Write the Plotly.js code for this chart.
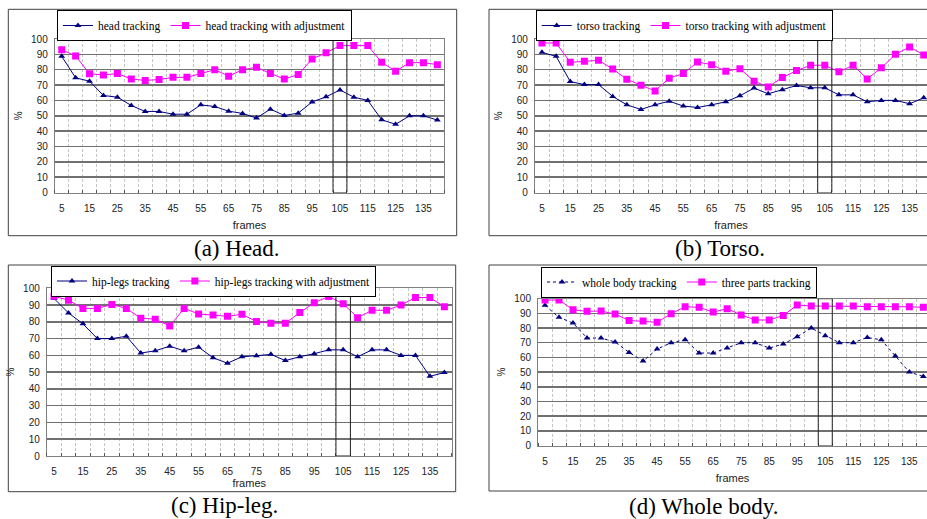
<!DOCTYPE html>
<html>
<head>
<meta charset="utf-8">
<script src="https://cdn.plot.ly/plotly-3.0.1.min.js"></script>
<style>html,body{margin:0;padding:0;background:#fff;}#chart{width:927px;height:519px;}</style>
</head>
<body>
<div id="chart"></div>
<script>
// ---- data ----
const frames = [5,10,15,20,25,30,35,40,45,50,55,60,65,70,75,80,85,90,95,100,105,110,115,120,125,130,135,140];
const tickLabels = ['5','15','25','35','45','55','65','75','85','95','105','115','125','135'];
const tickFrames = [5,15,25,35,45,55,65,75,85,95,105,115,125,135];

const headTracking  = [88.7,74.7,72.5,63.2,62.1,56.7,52.8,52.8,51,51,57.1,56,53,51.5,48.5,54.3,50.2,51.7,59,62.3,66.8,62.1,60,47.4,44.4,50,50,47.2];
const headAdjusted  = [93,89,77.3,76.6,77.5,74,73,73.6,75,75,77.5,80,75.8,80,81.6,77.5,74,76.8,87,91,95.7,95.7,95.7,84.8,79,84.6,84.6,83.3];
const torsoTracking = [91.3,88.7,72.3,70.3,70.3,62.6,57.1,54.1,57.1,59.5,56.3,55.4,57.1,59.1,63,68,64.3,66.9,69.7,68.2,68.2,63.6,63.6,59.1,60,60,57.8,61.7];
const torsoAdjusted = [97.4,97.4,84.8,85.5,86.1,80.5,73.8,69.9,66.2,74.5,77.5,85,83.3,79,80.7,72.5,68.8,74.9,79.4,82.9,82.9,78.6,82.9,74,81.2,90,94.8,89.6];
const hipTracking   = [93.9,85.3,78.8,70,70,71.4,61.4,62.7,65.5,62.7,64.9,58.6,55.3,59.2,59.8,60.6,56.9,59.2,61,63.3,63.3,59.2,63.3,63.3,60,60,47.5,49.8];
const hipAdjusted   = [95.3,92.9,88,88,90.4,88,82.2,81.6,77.5,88,84.7,84.1,83.3,84.5,80.2,79.2,79.2,85.5,91.4,95.1,90.8,82.5,86.9,86.9,90,94.5,94.5,89];
const wholeBody     = [95.5,87.3,83.4,73.2,73.2,70.5,63.4,57.5,65.7,70,72,63,63,66.4,70,70,66.4,69.1,74.1,80,74.8,70,70,73.6,72,60.9,50,47];
const threeParts    = [99.1,99.1,92.5,91.4,91.6,89.5,85.2,84.8,83.9,89.8,94.5,94.1,90.9,93.2,88.9,85.5,85.5,88.6,95.7,95,95,95,95,94.5,94.5,94.5,94.5,94.1];

const seriesNames = [
  ['head tracking','head tracking with adjustment'],
  ['torso tracking','torso tracking with adjustment'],
  ['hip-legs tracking','hip-legs tracking with adjustment'],
  ['whole body tracking','three parts tracking']
];
const captions = ['(a) Head.','(b) Torso.','(c) Hip-leg.','(d) Whole body.'];
const highlightFrame = 105;

// ---- layout helpers ----
const W = 927, H = 519;
const px = x => x / W;
const py = y => 1 - y / H;

const NAVY = '#000080', MAG = '#FF00FF';
const panels = [
  {x0:54.75, x1:444.3, y0:39,    y1:192.5, xmax:142.5,  box:[8.3,9.3,456.7,235.7], leg:[57,10],   cap:[237,248]},
  {x0:534.9, x1:927,   y0:39,    y1:192.5, xmax:141.15, box:[489,9.3,940,235.7],  leg:[535.7,10], cap:[720,248]},
  {x0:46.8,  x1:451.6, y0:288.3, y1:456,   xmax:142.5,  box:[8.3,265,455.7,491.7], leg:[51,265.5], cap:[224,505]},
  {x0:538,   x1:927,   y0:298.7, y1:445.5, xmax:141.3,  box:[489,265,940,491],     leg:[541,266.5], cap:[703.5,506.7]}
];
const dataPairs = [
  [headTracking, headAdjusted],
  [torsoTracking, torsoAdjusted],
  [hipTracking, hipAdjusted],
  [wholeBody, threeParts]
];
const titleStandoffX = [8, 8, 2, 8];

const traces = [];
const layout = {
  width: W, height: H,
  margin: {l:0, r:0, t:0, b:0},
  paper_bgcolor: '#fff', plot_bgcolor: '#fff',
  shapes: [], annotations: [],
  font: {family: 'Liberation Sans, Arial, sans-serif', size: 10, color: '#000'}
};

panels.forEach((p, i) => {
  const n = i + 1;
  const xa = n === 1 ? 'xaxis' : 'xaxis' + n;
  const ya = n === 1 ? 'yaxis' : 'yaxis' + n;
  const xr = n === 1 ? 'x' : 'x' + n;
  const yr = n === 1 ? 'y' : 'y' + n;
  const lg = n === 1 ? 'legend' : 'legend' + n;
  const [s1, s2] = dataPairs[i];

  traces.push({
    x: frames, y: s1, xaxis: xr, yaxis: yr, legend: lg,
    name: seriesNames[i][0], type: 'scatter', mode: 'lines+markers',
    line: {color: NAVY, width: 1, dash: n === 4 ? 'dot' : 'solid'},
    marker: {symbol: 'triangle-up', size: 6, color: NAVY}
  });
  traces.push({
    x: frames, y: s2, xaxis: xr, yaxis: yr, legend: lg,
    name: seriesNames[i][1], type: 'scatter', mode: 'lines+markers',
    line: {color: MAG, width: 1},
    marker: {symbol: 'square', size: 7, color: MAG}
  });

  layout[xa] = {
    domain: [px(p.x0), px(p.x1)], anchor: yr,
    range: [2.5, p.xmax], tickmode: 'array', tickvals: tickFrames, ticktext: tickLabels,
    showgrid: false, zeroline: false, showline: true, mirror: true,
    linecolor: '#808080', linewidth: 1, ticks: '',
    ticklabelstandoff: 6,
    tickfont: {family: 'Liberation Sans, Arial, sans-serif', size: 10, color: '#222'},
    minor: {tickmode: 'linear', tick0: 2.5, dtick: 5, showgrid: true, gridcolor: '#c4c4c4', griddash: '3px,2px', gridwidth: 1, ticks: 'inside', ticklen: 3, tickcolor: '#555'},
    title: {text: 'frames', standoff: titleStandoffX[i], font: {family: 'Liberation Sans, Arial, sans-serif', size: 11, color: '#222'}}
  };
  layout[ya] = {
    domain: [py(p.y1), py(p.y0)], anchor: xr,
    range: [0, 100], dtick: 10, tick0: 0,
    showgrid: true, gridcolor: '#707070', gridwidth: 1.5, zeroline: false,
    showline: true, mirror: true, linecolor: '#808080', linewidth: 1, ticks: '',
    ticklabelstandoff: 4,
    tickfont: {family: 'Liberation Sans, Arial, sans-serif', size: 10, color: '#222'},
    title: {text: '%', standoff: 6, font: {family: 'Liberation Sans, Arial, sans-serif', size: 10, color: '#222'}}
  };
  layout[lg] = {
    x: px(p.leg[0]), y: py(p.leg[1]), xanchor: 'left', yanchor: 'top',
    orientation: 'h', bgcolor: '#fff', bordercolor: '#000', borderwidth: 1,
    font: {family: 'Liberation Serif, Times New Roman, serif', size: 11.5, color: '#000'},
    itemwidth: 30
  };
  // highlighted frame column
  layout.shapes.push({
    type: 'rect', xref: xr, yref: yr,
    x0: highlightFrame - 2.5, x1: highlightFrame + 2.5, y0: 0, y1: 100,
    line: {color: '#222', width: 1}, fillcolor: 'rgba(0,0,0,0)', layer: 'above'
  });
  // panel frame
  layout.shapes.push({
    type: 'rect', xref: 'paper', yref: 'paper',
    x0: px(p.box[0]), x1: px(p.box[2]), y0: py(p.box[3]), y1: py(p.box[1]),
    line: {color: '#404040', width: 1}, fillcolor: 'rgba(0,0,0,0)', layer: 'below'
  });
  layout.annotations.push({
    xref: 'paper', yref: 'paper', x: px(p.cap[0]), y: py(p.cap[1]),
    xanchor: 'center', yanchor: 'middle', showarrow: false, text: captions[i],
    font: {family: 'Liberation Serif, Times New Roman, serif', size: 23, color: '#000'}
  });
});

Plotly.newPlot('chart', traces, layout, {displayModeBar: false, staticPlot: true});
</script>
</body>
</html>
